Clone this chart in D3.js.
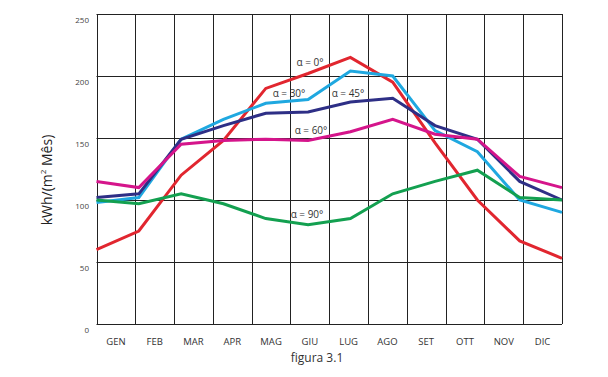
<!DOCTYPE html>
<html lang="it">
<head>
<meta charset="UTF-8">
<title>figura 3.1</title>
<script src="https://d3js.org/d3.v7.min.js"></script>
<style>
    body { margin: 0; background: #fff; }
    svg { display: block; font-family: "Open Sans", "DejaVu Sans", sans-serif; }
    .grid line { stroke: #222; stroke-width: 1; }
    .serie { fill: none; stroke-width: 3; stroke-linejoin: miter; }
</style>
</head>
<body>
<div id="chart"></div>
<script>
    const mesi = ["GEN", "FEB", "MAR", "APR", "MAG", "GIU", "LUG", "AGO", "SET", "OTT", "NOV", "DIC"];
    const yTicks = [0, 50, 100, 150, 200, 250];

    // valori, kWh/(m² mese)
    const alfa0  = [60, 75, 120, 148, 190, 202, 215, 195, 146, 100, 67, 53];
    const alfa30 = [98, 102, 149, 165, 178, 181, 204, 200, 156, 139, 100, 90];
    const alfa45 = [102, 105, 149, 160, 170, 171, 179, 182, 160, 149, 115, 100];
    const alfa60 = [115, 110, 145, 148, 149, 148, 155, 165, 153, 149, 119, 110];
    const alfa90 = [100, 97, 105, 97, 85, 80, 85, 105, 115, 124, 102, 100];

    const serie = [
        { nome: "α = 0°",  valori: alfa0,  colore: "#e1262f", lx: 310, ly: 66 },
        { nome: "α = 30°", valori: alfa30, colore: "#1fa8e0", lx: 289, ly: 97 },
        { nome: "α = 45°", valori: alfa45, colore: "#2e2f86", lx: 348, ly: 97 },
        { nome: "α = 60°", valori: alfa60, colore: "#d5158b", lx: 311, ly: 134 },
        { nome: "α = 90°", valori: alfa90, colore: "#13a050", lx: 307, ly: 218 }
    ];

    const width = 608, height = 377;
    const mLeft = 96.5, mRight = 562, mTop = 14, mBottom = 324;

    const svg = d3.select("#chart").append("svg")
        .attr("width", width)
        .attr("height", height);

    // punti distribuiti su tutta la larghezza, etichette al centro delle colonne
    const x = d3.scalePoint().domain(mesi).range([mLeft, mRight]);
    const xBand = d3.scaleBand().domain(mesi).range([mLeft, mRight]);
    const y = d3.scaleLinear().domain([0, 250]).range([mBottom, mTop]);

    // griglia
    const grid = svg.append("g").attr("class", "grid");
    grid.selectAll("line.h")
        .data(yTicks)
        .join("line")
        .attr("class", "h")
        .attr("x1", mLeft).attr("x2", mRight)
        .attr("y1", d => Math.round(y(d)) + 0.5)
        .attr("y2", d => Math.round(y(d)) + 0.5);
    const vx = mesi.map(m => xBand(m)).concat([mRight]);
    grid.selectAll("line.v")
        .data(vx)
        .join("line")
        .attr("class", "v")
        .attr("y1", mTop).attr("y2", mBottom)
        .attr("x1", d => Math.round(d) + 0.5)
        .attr("x2", d => Math.round(d) + 0.5);

    // etichette asse y
    svg.append("g")
        .selectAll("text")
        .data(yTicks)
        .join("text")
        .attr("x", 89)
        .attr("y", d => y(d) + 9)
        .attr("text-anchor", "end")
        .attr("font-size", 8)
        .attr("fill", "#444")
        .text(d => d);

    // etichette asse x
    svg.append("g")
        .selectAll("text")
        .data(mesi)
        .join("text")
        .attr("x", d => xBand(d) + xBand.bandwidth() / 2)
        .attr("y", 345)
        .attr("text-anchor", "middle")
        .attr("font-size", 9.5)
        .attr("fill", "#333")
        .text(d => d);

    svg.append("text")
        .attr("x", 317)
        .attr("y", 362)
        .attr("text-anchor", "middle")
        .attr("font-size", 12)
        .attr("fill", "#333")
        .text("figura 3.1");

    // titolo asse y
    const yTitle = svg.append("text")
        .attr("transform", "translate(52,180) rotate(-90)")
        .attr("text-anchor", "middle")
        .attr("font-size", 14)
        .attr("fill", "#222");
    yTitle.append("tspan").text("kWh/(m");
    yTitle.append("tspan").attr("font-size", 8).attr("dy", -6).text("2");
    yTitle.append("tspan").attr("dy", 6).text(" Mês)");

    // linee
    const line = d3.line()
        .x((d, i) => x(mesi[i]))
        .y(d => y(d));

    svg.append("g")
        .selectAll("path")
        .data(serie)
        .join("path")
        .attr("class", "serie")
        .attr("stroke", d => d.colore)
        .attr("d", d => line(d.valori));

    svg.append("g")
        .selectAll("text")
        .data(serie)
        .join("text")
        .attr("x", d => d.lx)
        .attr("y", d => d.ly)
        .attr("text-anchor", "middle")
        .attr("font-size", 10)
        .attr("fill", "#333")
        .text(d => d.nome);
</script>
</body>
</html>
